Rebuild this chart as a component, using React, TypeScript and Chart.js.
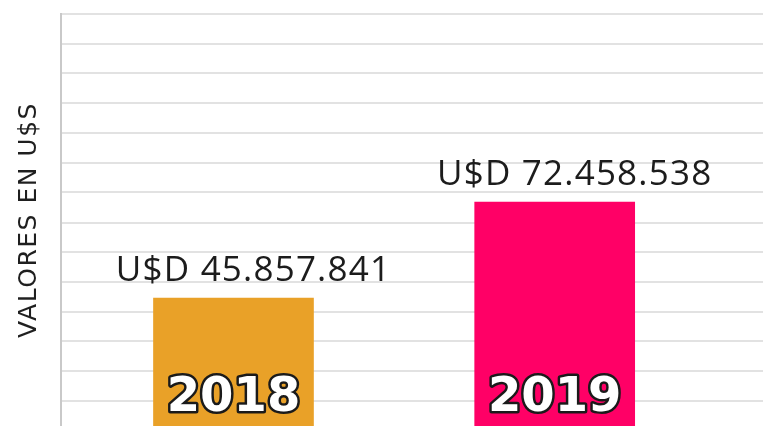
import React, { useEffect, useRef } from "react";
import { Chart, registerables } from "chart.js";

Chart.register(...registerables);

const categories = ["2018", "2019"];
const values = [45857841, 72458538];
const valueLabels = ["U$D 45.857.841", "U$D 72.458.538"];
const barColors = ["#E9A128", "#FF0066"];
const yTitle = "VALORES EN U$S";
const yMin = 10390000;
const yMax = 124550000;
const gridValues = [
  124550000, 116240000, 108120000, 99810000, 91580000, 83350000, 75230000,
  66640000, 58520000, 50290000, 42060000, 33850000, 25620000, 17400000,
];
const xMin = -0.537;
const xMax = 1.6485;

const spacingPlugin = {
  id: "titleSpacing",
  beforeDraw(chart: any) {
    chart.ctx.letterSpacing = "1.5px";
  },
  beforeDatasetsDraw(chart: any) {
    chart.ctx.letterSpacing = "0px";
  },
};

const barTextPlugin = {
  id: "barText",
  afterDatasetsDraw(chart: any) {
    const ctx = chart.ctx;
    const meta = chart.getDatasetMeta(0);
    const area = chart.chartArea;
    ctx.save();
    meta.data.forEach((bar: any, i: number) => {
      // value label above the bar
      ctx.letterSpacing = "1.2px";
      ctx.font = '400 35px "Open Sans", sans-serif';
      ctx.fillStyle = "#1c1c1c";
      ctx.textAlign = "center";
      ctx.textBaseline = "alphabetic";
      ctx.fillText(valueLabels[i], bar.x + 20, bar.y - 17);
      // year label inside the bar
      ctx.letterSpacing = "0px";
      ctx.font = '700 48px "DejaVu Sans", sans-serif';
      ctx.lineJoin = "round";
      ctx.lineWidth = 5;
      ctx.strokeStyle = "#1a1a1a";
      ctx.strokeText(categories[i], bar.x, area.bottom - 15);
      ctx.fillStyle = "#ffffff";
      ctx.fillText(categories[i], bar.x, area.bottom - 15);
    });
    ctx.restore();
  },
};

export default function App() {
  const ref = useRef<HTMLCanvasElement | null>(null);
  useEffect(() => {
    if (!ref.current) return;
    const chart = new Chart(ref.current, {
      type: "bar",
      data: {
        datasets: [
          {
            data: values.map((v, i) => ({ x: i, y: v })),
            backgroundColor: barColors,
            borderWidth: 0,
            barThickness: 160,
          },
        ],
      },
      options: {
        responsive: false,
        animation: false,
        layout: { padding: { top: 14, left: 0, right: 0, bottom: 0 } },
        plugins: {
          legend: { display: false },
          tooltip: { enabled: false },
        },
        scales: {
          x: {
            type: "linear",
            display: false,
            offset: false,
            min: xMin,
            max: xMax,
          },
          y: {
            type: "linear",
            min: yMin,
            max: yMax,
            afterBuildTicks: (axis: any) => {
              axis.ticks = gridValues.map((v) => ({ value: v }));
            },
            ticks: { display: false },
            grid: {
              color: "#e2e2e2",
              lineWidth: 2,
              drawTicks: false,
            },
            border: { display: true, color: "#c9c9c9", width: 2 },
            title: {
              display: true,
              text: yTitle,
              color: "#1f1f1f",
              font: { family: '"DejaVu Sans", sans-serif', size: 25, weight: "400" },
              padding: { top: 14, bottom: 17 },
            },
          },
        },
      },
      plugins: [spacingPlugin, barTextPlugin],
    });
    return () => chart.destroy();
  }, []);
  return (
    <div style={{ position: "fixed", left: 0, top: 0, width: 763, height: 426, background: "#ffffff" }}>
      <canvas ref={ref} width={763} height={426} />
    </div>
  );
}
